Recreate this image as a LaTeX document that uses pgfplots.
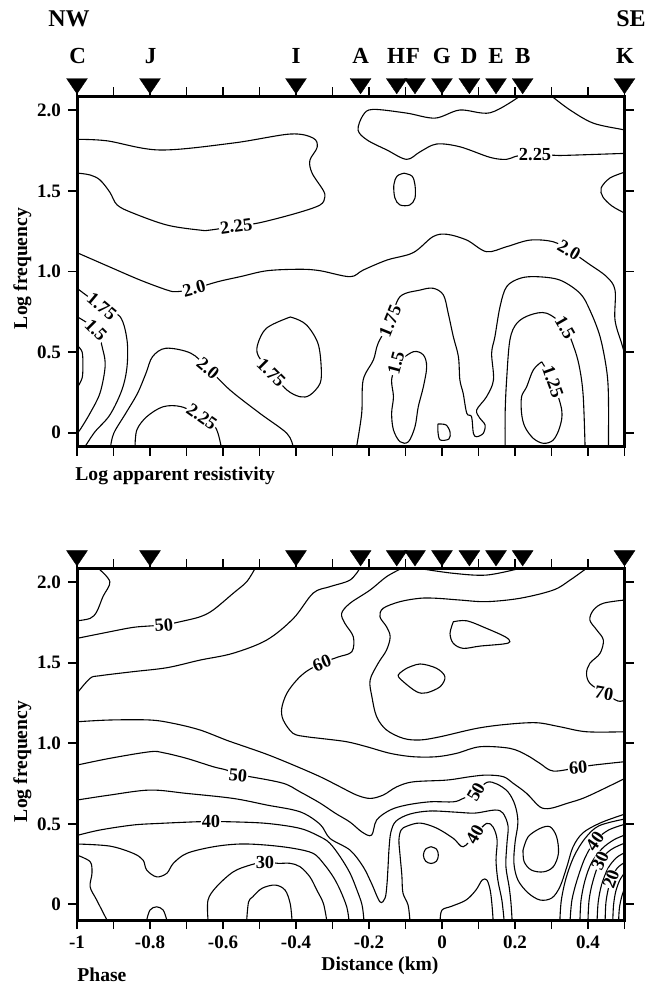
\documentclass[border=0pt]{standalone}
\usepackage{pgfplots}
\pgfplotsset{compat=1.18}
\usepackage{fontspec}
\setmainfont{Liberation Serif}
\tikzset{
  clab/.style={font=\fontsize{9.2}{10}\selectfont\bfseries, fill=white, inner sep=0.5pt},
}
\pgfplotsset{
  panel/.style={
    scale only axis, width=273.75pt,
    xmin=-1, xmax=0.5,
    axis line style={line width=1.5pt},
    tick align=outside,
    xtick={-1,-0.8,-0.6,-0.4,-0.2,0,0.2,0.4},
    minor xtick={-0.9,-0.7,-0.5,-0.3,-0.1,0.1,0.3,0.5},
    ytick={0,0.5,1,1.5,2},
    yticklabels={0,0.5,1.0,1.5,2.0},
    major tick length=4.5pt, minor tick length=4.5pt,
    tick style={black, line width=0.9pt},
    tick label style={font=\fontsize{9.5}{11}\selectfont\bfseries},
    clip=false,
  },
  cont/.style={black, line width=0.55pt, smooth, tension=0.55, mark=none},
  sta/.style={only marks, mark=triangle*, mark size=6pt, mark options={rotate=180, yscale=0.85, fill=black, draw=black, line width=0.2pt}},
}
\begin{document}
\begin{tikzpicture}
\path[use as bounding box] (0pt,0pt) rectangle (323pt,-493.5pt);
% ---------------- TOP PANEL ----------------
\begin{axis}[panel, at={(38.5pt,-223.35pt)}, anchor=south west, height=175.35pt,
  ymin=-0.087, ymax=2.089, xticklabels=\empty]
\addplot[sta] coordinates {(-1,2.166)(-0.8,2.166)(-0.4,2.166)(-0.223,2.166)(-0.124,2.166)(-0.074,2.166)(0,2.166)(0.075,2.166)(0.148,2.166)(0.221,2.166)(0.5,2.166)};
% T1 2.25
\addplot[cont] coordinates {(-1.0,1.611)(-0.964,1.599)(-0.937,1.568)(-0.910,1.492)(-0.890,1.413)(-0.847,1.363)(-0.753,1.288)(-0.663,1.257)(-0.636,1.257)(-0.564,1.282)(-0.499,1.303)(-0.397,1.363)(-0.334,1.413)(-0.321,1.462)(-0.326,1.506)(-0.356,1.611)(-0.362,1.690)(-0.342,1.771)(-0.353,1.828)(-0.416,1.853)(-0.573,1.797)(-0.773,1.754)(-0.918,1.811)(-1.0,1.820)};
% T2 2.25
\addplot[cont] coordinates {(0.214,2.089)(0.132,1.985)(0.049,2.002)(-0.019,1.952)(-0.097,1.983)(-0.189,2.006)(-0.216,1.971)(-0.230,1.878)(-0.205,1.816)(-0.151,1.754)(-0.097,1.696)(-0.060,1.743)(-0.015,1.791)(0.049,1.774)(0.132,1.708)(0.177,1.696)(0.205,1.716)(0.255,1.727)(0.310,1.721)(0.342,1.721)(0.5,1.733)};
% T3
\addplot[cont] coordinates {(0.30,2.089)(0.351,2.002)(0.414,1.921)(0.492,1.882)(0.5,1.878)};
% oval
\addplot[cont] coordinates {(-0.104,1.610)(-0.082,1.592)(-0.074,1.537)(-0.074,1.456)(-0.088,1.413)(-0.115,1.413)(-0.129,1.456)(-0.132,1.537)(-0.123,1.592)(-0.104,1.610)};
% right bulge
\addplot[cont] coordinates {(0.5,1.616)(0.460,1.580)(0.436,1.518)(0.441,1.462)(0.466,1.406)(0.5,1.363)};
% T4 2.0
\addplot[cont] coordinates {(-1.0,1.117)(-0.910,1.028)(-0.827,0.947)(-0.753,0.885)(-0.726,0.875)(-0.679,0.894)(-0.614,0.937)(-0.553,0.968)(-0.479,1.005)(-0.389,1.014)(-0.334,1.005)(-0.252,0.968)(-0.216,1.009)(-0.151,1.071)(-0.079,1.117)(-0.025,1.216)(0.013,1.231)(0.068,1.195)(0.122,1.123)(0.177,1.154)(0.241,1.195)(0.304,1.185)(0.348,1.133)(0.400,1.051)(0.451,0.968)(0.474,0.885)(0.474,0.699)(0.492,0.555)(0.5,0.494)};
% T5 1.75 left
\addplot[cont] coordinates {(-1.0,0.896)(-0.932,0.783)(-0.882,0.720)(-0.863,0.575)(-0.863,0.409)(-0.877,0.265)(-0.910,0.110)(-0.951,0.005)(-0.978,-0.087)};
% T6 1.5 left
\addplot[cont] coordinates {(-1.0,0.720)(-0.948,0.637)(-0.929,0.513)(-0.923,0.409)(-0.937,0.246)(-0.964,0.122)(-0.992,0.017)(-1.0,0.0)};
% small bulge
\addplot[cont] coordinates {(-1,0.544)(-0.986,0.501)(-0.984,0.420)(-0.986,0.339)(-1.0,0.277)};
% T7 2.0 lower left
\addplot[cont] coordinates {(-0.908,-0.087)(-0.899,-0.002)(-0.866,0.122)(-0.834,0.245)(-0.811,0.369)(-0.793,0.472)(-0.756,0.524)(-0.688,0.493)(-0.641,0.400)(-0.581,0.265)(-0.499,0.120)(-0.425,-0.004)(-0.408,-0.087)};
% T8 2.25 lower left
\addplot[cont] coordinates {(-0.841,-0.087)(-0.836,0.017)(-0.809,0.099)(-0.764,0.161)(-0.714,0.161)(-0.658,0.099)(-0.620,0.030)(-0.605,-0.087)};
% T9 1.75 loop
\addplot[cont] coordinates {(-0.468,0.373)(-0.504,0.480)(-0.504,0.555)(-0.481,0.648)(-0.425,0.710)(-0.408,0.713)(-0.371,0.668)(-0.340,0.555)(-0.331,0.409)(-0.334,0.306)(-0.362,0.233)(-0.389,0.223)(-0.425,0.265)(-0.468,0.373)};
% T10 long 1.75
\addplot[cont] coordinates {(-0.234,-0.087)(-0.220,0.120)(-0.216,0.327)(-0.188,0.451)(-0.175,0.555)(-0.142,0.693)(-0.115,0.844)(-0.060,0.885)(-0.024,0.896)(0.004,0.854)(0.017,0.741)(0.031,0.596)(0.045,0.471)(0.049,0.327)(0.058,0.244)(0.068,0.120)(0.081,0.099)(0.086,-0.004)(0.095,-0.025)(0.113,-0.004)(0.118,0.048)(0.104,0.089)(0.095,0.141)(0.122,0.223)(0.141,0.327)(0.136,0.493)(0.145,0.596)(0.159,0.782)(0.177,0.906)(0.214,0.958)(0.259,0.968)(0.323,0.947)(0.378,0.865)(0.405,0.761)(0.433,0.596)(0.451,0.389)(0.456,0.223)(0.456,-0.087)};
% T11 1.5 loop
\addplot[cont] coordinates {(-0.126,0.432)(-0.079,0.502)(-0.051,0.482)(-0.042,0.409)(-0.051,0.285)(-0.065,0.161)(-0.074,0.037)(-0.092,-0.056)(-0.115,-0.056)(-0.133,0.017)(-0.138,0.120)(-0.133,0.223)(-0.138,0.327)(-0.126,0.432)};
% D shape
\addplot[cont] coordinates {(-0.011,0.054)(0.011,0.048)(0.022,0.004)(0.019,-0.039)(-0.005,-0.045)(-0.011,0.004)(-0.011,0.054)};
% T12 1.5 right
\addplot[cont] coordinates {(0.173,-0.087)(0.173,0.122)(0.177,0.327)(0.186,0.575)(0.205,0.679)(0.241,0.730)(0.287,0.741)(0.337,0.653)(0.364,0.513)(0.378,0.389)(0.387,0.223)(0.392,-0.087)};
% T13 1.25
\addplot[cont] coordinates {(0.273,0.440)(0.250,0.389)(0.232,0.285)(0.218,0.223)(0.218,0.120)(0.227,0.037)(0.250,-0.035)(0.278,-0.066)(0.305,-0.045)(0.323,0.037)(0.328,0.141)(0.304,0.316)(0.273,0.440)};
% labels
\node[clab, rotate=8] at (axis cs:-0.564,1.282) {2.25};
\node[clab] at (axis cs:0.255,1.727) {2.25};
\node[clab, rotate=15] at (axis cs:-0.679,0.894) {2.0};
\node[clab, rotate=-30] at (axis cs:0.348,1.133) {2.0};
\node[clab, rotate=-40] at (axis cs:-0.932,0.783) {1.75};
\node[clab, rotate=-45] at (axis cs:-0.948,0.637) {1.5};
\node[clab, rotate=-40] at (axis cs:-0.641,0.400) {2.0};
\node[clab, rotate=-35] at (axis cs:-0.658,0.099) {2.25};
\node[clab, rotate=-45] at (axis cs:-0.468,0.373) {1.75};
\node[clab, rotate=68] at (axis cs:-0.142,0.693) {1.75};
\node[clab, rotate=75] at (axis cs:-0.126,0.432) {1.5};
\node[clab, rotate=-60] at (axis cs:0.337,0.653) {1.5};
\node[clab, rotate=-70] at (axis cs:0.304,0.316) {1.25};
\end{axis}
% ---------------- BOTTOM PANEL ----------------
\begin{axis}[panel, at={(38.5pt,-460pt)}, anchor=south west, height=175.85pt,
  ymin=-0.097, ymax=2.087, xticklabels={-1,-0.8,-0.6,-0.4,-0.2,0,0.2,0.4}]
\addplot[sta] coordinates {(-1,2.165)(-0.8,2.165)(-0.4,2.165)(-0.223,2.165)(-0.124,2.165)(-0.074,2.165)(0,2.165)(0.075,2.165)(0.148,2.165)(0.221,2.165)(0.5,2.165)};
% B1
\addplot[cont] coordinates {(-0.942,2.087)(-0.910,2.004)(-0.929,1.911)(-0.946,1.817)(-0.964,1.776)(-1.0,1.761)};
% B2 50
\addplot[cont] coordinates {(-1.0,1.652)(-0.910,1.693)(-0.847,1.720)(-0.800,1.729)(-0.762,1.735)(-0.718,1.755)(-0.663,1.786)(-0.627,1.828)(-0.572,1.932)(-0.535,2.004)(-0.512,2.087)};
% B3 55
\addplot[cont] coordinates {(-1.0,1.311)(-0.964,1.404)(-0.937,1.420)(-0.847,1.445)(-0.753,1.470)(-0.663,1.517)(-0.573,1.559)(-0.480,1.642)(-0.407,1.776)(-0.353,1.933)(-0.307,1.973)(-0.252,2.014)(-0.225,2.087)};
% B4 60
\addplot[cont] coordinates {(-0.110,2.087)(-0.152,2.035)(-0.197,1.952)(-0.252,1.870)(-0.275,1.807)(-0.266,1.745)(-0.243,1.662)(-0.247,1.569)(-0.285,1.536)(-0.329,1.499)(-0.370,1.449)(-0.398,1.393)(-0.425,1.311)(-0.439,1.219)(-0.435,1.145)(-0.408,1.062)(-0.371,1.041)(-0.334,1.031)(-0.261,1.010)(-0.206,0.979)(-0.142,0.938)(-0.079,0.917)(-0.015,0.917)(0.040,0.938)(0.104,0.979)(0.186,0.969)(0.232,0.927)(0.268,0.876)(0.305,0.828)(0.373,0.850)(0.415,0.865)(0.5,0.886)};
% B5
\addplot[cont] coordinates {(-0.065,2.087)(0.031,2.056)(0.122,2.045)(0.214,2.087)};
% B6 65
\addplot[cont] coordinates {(0.396,2.087)(0.351,2.014)(0.305,1.952)(0.214,1.901)(0.122,1.880)(0.049,1.890)(-0.015,1.901)(-0.060,1.901)(-0.115,1.880)(-0.161,1.839)(-0.170,1.786)(-0.152,1.724)(-0.142,1.662)(-0.152,1.579)(-0.175,1.497)(-0.197,1.393)(-0.192,1.289)(-0.179,1.165)(-0.152,1.083)(-0.106,1.031)(-0.060,1.021)(-0.005,1.041)(0.095,1.093)(0.177,1.118)(0.259,1.128)(0.323,1.103)(0.396,1.072)(0.5,1.072)};
% 70 loops
\addplot[cont] coordinates {(0.031,1.755)(0.068,1.761)(0.122,1.714)(0.173,1.662)(0.186,1.631)(0.168,1.617)(0.104,1.604)(0.058,1.590)(0.031,1.621)(0.022,1.683)(0.031,1.755)};
\addplot[cont] coordinates {(-0.097,1.466)(-0.060,1.493)(-0.015,1.466)(0.008,1.414)(-0.005,1.352)(-0.042,1.314)(-0.069,1.320)(-0.106,1.383)(-0.120,1.424)(-0.097,1.466)};
% 70 right
\addplot[cont] coordinates {(0.5,1.890)(0.442,1.870)(0.415,1.828)(0.405,1.766)(0.424,1.704)(0.442,1.642)(0.433,1.559)(0.405,1.497)(0.396,1.435)(0.405,1.373)(0.444,1.312)(0.482,1.263)(0.5,1.269)};
% B9 55
\addplot[cont] coordinates {(-1.0,1.134)(-0.910,1.145)(-0.800,1.145)(-0.736,1.124)(-0.663,1.083)(-0.592,1.021)(-0.553,0.990)(-0.480,0.932)(-0.407,0.865)(-0.334,0.793)(-0.279,0.730)(-0.234,0.679)(-0.197,0.658)(-0.161,0.679)(-0.124,0.730)(-0.079,0.761)(0.013,0.772)(0.077,0.793)(0.122,0.803)(0.168,0.793)(0.195,0.752)(0.232,0.689)(0.268,0.606)(0.296,0.596)(0.342,0.627)(0.396,0.668)(0.5,0.781)};
% 55 oval
\addplot[cont] coordinates {(0.222,0.337)(0.236,0.420)(0.269,0.472)(0.296,0.482)(0.314,0.420)(0.319,0.317)(0.305,0.234)(0.278,0.202)(0.245,0.213)(0.225,0.265)(0.222,0.337)};
% 50
\addplot[cont] coordinates {(-1.0,0.865)(-0.910,0.907)(-0.800,0.948)(-0.764,0.942)(-0.700,0.907)(-0.627,0.855)(-0.590,0.834)(-0.559,0.803)(-0.526,0.793)(-0.435,0.752)(-0.389,0.699)(-0.334,0.629)(-0.293,0.567)(-0.252,0.511)(-0.219,0.449)(-0.193,0.430)(-0.179,0.524)(-0.142,0.586)(-0.097,0.617)(-0.033,0.637)(0.031,0.637)(0.058,0.658)(0.093,0.698)(0.123,0.758)(0.151,0.747)(0.181,0.698)(0.200,0.617)(0.208,0.511)(0.200,0.381)(0.197,0.256)(0.208,0.151)(0.236,0.071)(0.269,0.027)(0.301,0.040)(0.323,0.109)(0.342,0.233)(0.359,0.357)(0.386,0.444)(0.433,0.505)(0.493,0.555)(0.5,0.558)};
% 45
\addplot[cont] coordinates {(-1.0,0.648)(-0.910,0.679)(-0.800,0.710)(-0.699,0.689)(-0.572,0.658)(-0.480,0.617)(-0.389,0.575)(-0.334,0.497)(-0.307,0.410)(-0.252,0.337)(-0.216,0.234)(-0.193,0.130)(-0.170,0.016)(-0.156,0.039)(-0.151,0.120)(-0.148,0.226)(-0.145,0.350)(-0.140,0.449)(-0.126,0.517)(-0.088,0.561)(-0.033,0.580)(0.036,0.573)(0.090,0.567)(0.145,0.586)(0.167,0.567)(0.181,0.486)(0.178,0.381)(0.175,0.238)(0.184,0.108)(0.189,0.008)(0.192,-0.097)};
% 40 left
\addplot[cont] coordinates {(-1.0,0.428)(-0.937,0.462)(-0.846,0.493)(-0.773,0.503)(-0.672,0.513)(-0.633,0.513)(-0.581,0.513)(-0.480,0.503)(-0.389,0.472)(-0.334,0.420)(-0.307,0.379)(-0.279,0.296)(-0.252,0.194)(-0.233,0.089)(-0.219,-0.004)(-0.214,-0.097)};
% 40 cap
\addplot[cont] coordinates {(-0.088,-0.097)(-0.093,-0.004)(-0.107,0.071)(-0.110,0.182)(-0.115,0.307)(-0.118,0.400)(-0.112,0.462)(-0.096,0.486)(-0.060,0.505)(-0.015,0.474)(0.031,0.410)(0.058,0.358)(0.090,0.431)(0.122,0.503)(0.140,0.480)(0.151,0.400)(0.148,0.275)(0.153,0.151)(0.164,0.027)(0.170,-0.097)};
% small circle
\addplot[cont] coordinates {(-0.030,0.358)(-0.015,0.343)(-0.010,0.306)(-0.015,0.269)(-0.030,0.254)(-0.045,0.269)(-0.051,0.306)(-0.045,0.343)(-0.030,0.358)};
% bump inside cap
\addplot[cont] coordinates {(-0.005,-0.097)(0.0,-0.035)(0.027,-0.011)(0.066,0.027)(0.093,0.089)(0.110,0.151)(0.123,0.151)(0.132,0.089)(0.137,-0.004)(0.140,-0.097)};
% 35
\addplot[cont] coordinates {(-1.0,0.375)(-0.910,0.362)(-0.846,0.317)(-0.819,0.275)(-0.809,0.213)(-0.782,0.171)(-0.754,0.193)(-0.736,0.255)(-0.699,0.317)(-0.626,0.358)(-0.553,0.375)(-0.480,0.368)(-0.407,0.348)(-0.353,0.317)(-0.325,0.255)(-0.298,0.171)(-0.279,0.089)(-0.261,-0.015)(-0.255,-0.097)};
% 30
\addplot[cont] coordinates {(-0.641,-0.097)(-0.641,0.027)(-0.618,0.109)(-0.572,0.202)(-0.526,0.244)(-0.485,0.263)(-0.449,0.255)(-0.416,0.255)(-0.389,0.234)(-0.362,0.171)(-0.343,0.089)(-0.325,0.006)(-0.316,-0.097)};
% 25
\addplot[cont] coordinates {(-0.535,-0.097)(-0.530,0.015)(-0.519,0.046)(-0.493,0.100)(-0.457,0.120)(-0.430,0.089)(-0.416,0.006)(-0.411,-0.097)};
% corner
\addplot[cont] coordinates {(-1,0.306)(-0.964,0.265)(-0.959,0.193)(-0.964,0.109)(-0.946,0.027)(-0.918,-0.097)};
% small bump
\addplot[cont] coordinates {(-0.809,-0.097)(-0.800,-0.035)(-0.782,-0.015)(-0.764,-0.035)(-0.754,-0.097)};
% cluster 45..10
\addplot[cont] coordinates {(0.323,-0.097)(0.327,0.027)(0.340,0.164)(0.362,0.300)(0.392,0.410)(0.430,0.488)(0.5,0.530)};
\addplot[cont] coordinates {(0.351,-0.097)(0.356,0.027)(0.370,0.151)(0.392,0.290)(0.419,0.393)(0.455,0.460)(0.5,0.497)};
\addplot[cont] coordinates {(0.378,-0.097)(0.381,0.027)(0.392,0.151)(0.410,0.260)(0.438,0.345)(0.470,0.400)(0.5,0.430)};
\addplot[cont] coordinates {(0.400,-0.097)(0.403,0.027)(0.413,0.140)(0.433,0.269)(0.463,0.340)(0.5,0.380)};
\addplot[cont] coordinates {(0.425,-0.097)(0.428,0.015)(0.437,0.120)(0.455,0.225)(0.478,0.290)(0.5,0.320)};
\addplot[cont] coordinates {(0.447,-0.097)(0.449,0.009)(0.455,0.090)(0.463,0.157)(0.480,0.225)(0.5,0.260)};
\addplot[cont] coordinates {(0.468,-0.097)(0.470,-0.004)(0.476,0.080)(0.487,0.150)(0.5,0.195)};
\addplot[cont] coordinates {(0.484,-0.097)(0.486,-0.023)(0.492,0.045)(0.5,0.100)};
% labels
\node[clab, rotate=5] at (axis cs:-0.762,1.735) {50};
\node[clab, rotate=22] at (axis cs:-0.329,1.499) {60};
\node[clab, rotate=-10] at (axis cs:0.444,1.312) {70};
\node[clab, rotate=5] at (axis cs:0.373,0.850) {60};
\node[clab, rotate=-5] at (axis cs:-0.559,0.803) {50};
\node[clab] at (axis cs:-0.633,0.513) {40};
\node[clab] at (axis cs:-0.485,0.263) {30};
\node[clab, rotate=60] at (axis cs:0.093,0.698) {50};
\node[clab, rotate=60] at (axis cs:0.090,0.431) {40};
\node[clab, rotate=55, inner sep=0pt] at (axis cs:0.419,0.393) {40};
\node[clab, rotate=65, inner sep=0pt] at (axis cs:0.433,0.269) {30};
\node[clab, rotate=70, inner sep=0pt] at (axis cs:0.463,0.157) {20};
\end{axis}
% ---------------- TEXT ----------------
\begin{scope}[every node/.style={font=\fontsize{11.5}{13}\selectfont\bfseries, anchor=base, inner sep=0pt}]
\node at (38.85pt,-31.65pt) {C};
\node at (75.35pt,-31.65pt) {J};
\node at (148pt,-31.65pt) {I};
\node at (180.35pt,-31.65pt) {A};
\node at (198pt,-31.65pt) {H};
\node at (206.5pt,-31.65pt) {F};
\node at (220.85pt,-31.65pt) {G};
\node at (234.65pt,-31.65pt) {D};
\node at (248pt,-31.65pt) {E};
\node at (261.35pt,-31.65pt) {B};
\node at (312.5pt,-31.65pt) {K};
\node[font=\fontsize{12}{14}\selectfont\bfseries] at (34.5pt,-13.35pt) {NW};
\node[font=\fontsize{12}{14}\selectfont\bfseries] at (315.5pt,-13.35pt) {SE};
\end{scope}
\begin{scope}[every node/.style={font=\fontsize{9.8}{12}\selectfont\bfseries, inner sep=0pt}]
\node[anchor=base west] at (37.5pt,-240pt) {Log apparent resistivity};
\node[anchor=base west] at (38.5pt,-490.8pt) {Phase};
\node[anchor=base] at (190pt,-485pt) {Distance (km)};
\node[rotate=90] at (11.25pt,-134.25pt) {Log frequency};
\node[rotate=90] at (11.25pt,-380.75pt) {Log frequency};
\end{scope}
\end{tikzpicture}
\end{document}
